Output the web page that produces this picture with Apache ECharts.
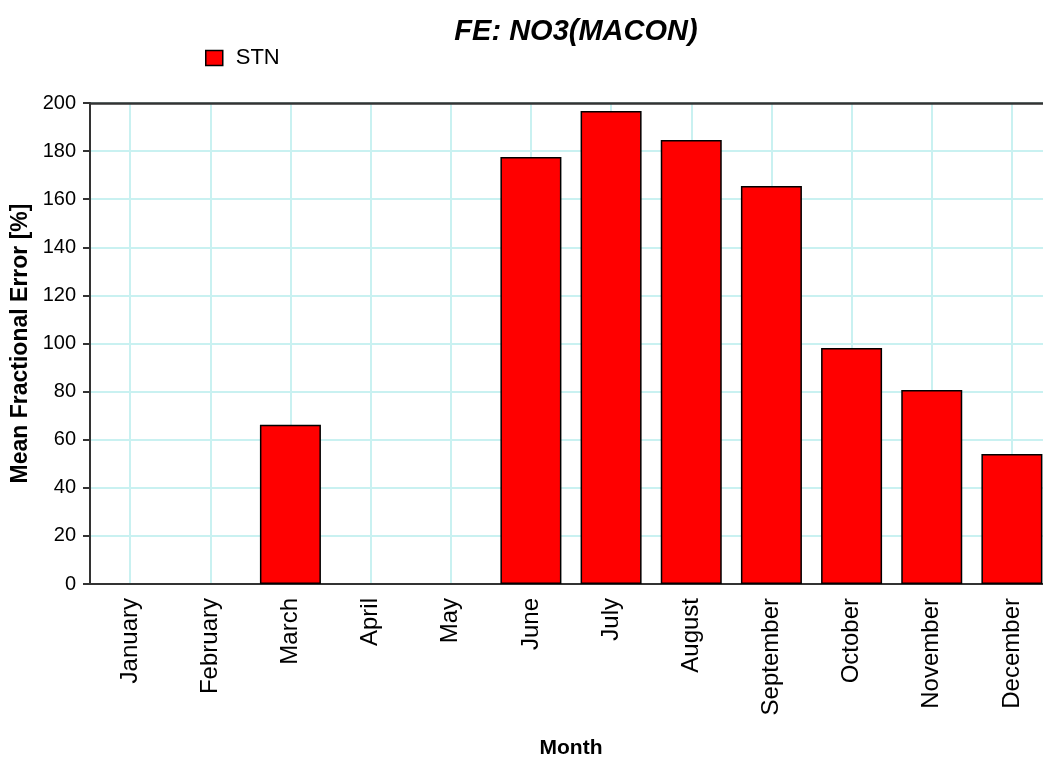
<!DOCTYPE html>
<html>
<head>
<meta charset="utf-8">
<script src="https://cdn.jsdelivr.net/npm/echarts@6/dist/echarts.min.js"></script>
<style>
  html, body { margin: 0; padding: 0; background: #fff; }
  #chart { width: 1043px; height: 759px; }
</style>
</head>
<body>
<div id="chart"></div>
<script>
// data
var months = ['January', 'February', 'March', 'April', 'May', 'June',
              'July', 'August', 'September', 'October', 'November', 'December'];
var stnValues = [null, null, 66.2, null, null, 177.5, 196.7, 184.6, 165.5, 98.1, 80.7, 54.1];
var yTicks = { min: 0, max: 200, interval: 20 };

var font = '"Liberation Sans", Arial, sans-serif';
var gridColor = '#c9f1f1';

var chart = echarts.init(document.getElementById('chart'));
chart.setOption({
    animation: false,
    backgroundColor: '#fff',
    title: {
        text: 'FE: NO3(MACON)',
        left: 571,
        textAlign: 'center',
        top: 12,
        textStyle: { fontFamily: font, fontSize: 29, fontWeight: 'bold', fontStyle: 'italic', color: '#000' }
    },
    legend: {
        left: 200,
        top: 42,
        itemWidth: 17,
        itemHeight: 15,
        icon: 'rect',
        data: ['STN'],
        textStyle: { fontFamily: font, fontSize: 22, color: '#000', padding: [0, 0, 0, 8] },
        itemStyle: { borderColor: '#000', borderWidth: 1.5 }
    },
    grid: {
        left: 90,
        top: 103,
        bottom: 175,
        width: 962,   // plot runs past the right edge in the reference
        containLabel: false,
        outerBoundsMode: 'none'
    },
    xAxis: [{
        type: 'category',
        data: months,
        name: 'Month',
        nameLocation: 'middle',
        nameGap: 154,
        nameTextStyle: { fontFamily: font, fontSize: 21, fontWeight: 'bold', color: '#000' },
        axisLine: { lineStyle: { color: '#333', width: 2 } },
        axisTick: { alignWithLabel: true, length: 7, lineStyle: { color: '#333', width: 2 } },
        axisLabel: { rotate: 90, margin: 14, fontFamily: font, fontSize: 24, color: '#000' },
        splitLine: { show: true, alignWithLabel: true, lineStyle: { color: gridColor, width: 2 } }
    }, {
        // plain top border of the plot
        type: 'category',
        data: months,
        position: 'top',
        axisLine: { show: true, lineStyle: { color: '#333', width: 2.5 } },
        axisTick: { show: false },
        axisLabel: { show: false },
        splitLine: { show: false }
    }],
    yAxis: {
        type: 'value',
        min: yTicks.min,
        max: yTicks.max,
        interval: yTicks.interval,
        name: 'Mean Fractional Error [%]',
        nameLocation: 'middle',
        nameGap: 58,
        nameTextStyle: { fontFamily: font, fontSize: 23, fontWeight: 'bold', color: '#000' },
        axisLine: { show: true, lineStyle: { color: '#333', width: 2 } },
        axisTick: { show: true, length: 7, lineStyle: { color: '#333', width: 2 } },
        axisLabel: { margin: 14, fontFamily: font, fontSize: 20, color: '#000' },
        splitLine: { show: true, lineStyle: { color: gridColor, width: 2 } }
    },
    series: [{
        name: 'STN',
        type: 'bar',
        data: stnValues,
        barWidth: 61,
        itemStyle: { color: '#ff0000', borderColor: '#000', borderWidth: 1.5 }
    }]
});
</script>
</body>
</html>
